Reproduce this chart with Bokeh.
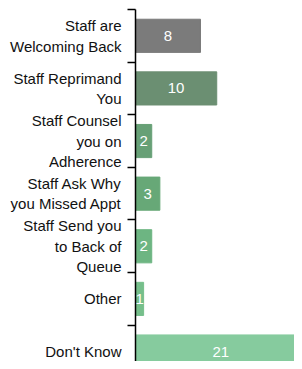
from bokeh.plotting import figure
from bokeh.models import ColumnDataSource, FixedTicker, Range1d, LabelSet
from bokeh.core.properties import value
from bokeh.embed import file_html
from bokeh.resources import INLINE

categories = ["Staff are\nWelcoming Back", "Staff Reprimand\nYou", "Staff Counsel\nyou on\nAdherence",
              "Staff Ask Why\nyou Missed Appt", "Staff Send you\nto Back of\nQueue", "Other", "Don't Know"]
counts = [8, 10, 2, 3, 2, 1, 21]
colors = ["#7b7b7b", "#6b8f72", "#67a076", "#67a877", "#6db582", "#76bf8b", "#86cb9e"]

pos = list(range(len(categories)))
src = ColumnDataSource(dict(y=pos, right=counts, xc=[c / 2 for c in counts],
                            lab=[str(c) for c in counts], color=colors))

p = figure(width=294, height=361, output_backend="svg", toolbar_location=None,
           x_range=Range1d(0, 19.57), y_range=Range1d(6.19, -0.5),
           x_axis_location=None, min_border_left=135, min_border_right=0,
           min_border_top=9, min_border_bottom=0)
p.outline_line_color = None
p.xgrid.visible = False
p.ygrid.visible = False

p.hbar(y="y", left=0, right="right", height=0.63, color="color", source=src)

labels = LabelSet(x="xc", y="y", text="lab", source=src, text_color="white",
                  text_align="center", text_baseline="middle", text_font_size="15px",
                  text_font=value("Liberation Sans"))
p.add_layout(labels)

ax = p.yaxis[0]
ax.ticker = FixedTicker(ticks=pos, minor_ticks=[i - 0.5 for i in range(len(categories) + 1)])
ax.major_label_overrides = {i: c for i, c in enumerate(categories)}
ax.major_tick_out = 0
ax.major_tick_in = 0
ax.minor_tick_out = 8
ax.minor_tick_in = 0
ax.minor_tick_line_width = 1.5
ax.axis_line_width = 1.5
ax.axis_line_color = "black"
ax.minor_tick_line_color = "black"
ax.major_label_standoff = 6
ax.major_label_text_font = "Liberation Sans"
ax.major_label_text_font_size = "15px"
ax.major_label_text_color = "#111111"

open("out.html", "w").write(file_html(p, INLINE))
